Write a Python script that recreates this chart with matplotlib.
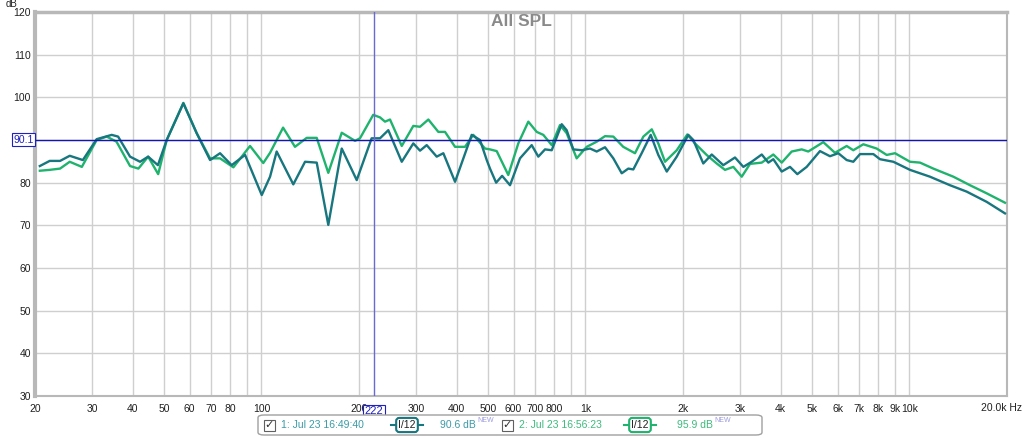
import matplotlib
matplotlib.use('Agg')
import matplotlib.pyplot as plt
from matplotlib.patches import FancyBboxPatch, Rectangle
from matplotlib.lines import Line2D

plt.rcParams['font.family'] = ['Liberation Sans', 'DejaVu Sans']

# measurement 1 (dark teal)
freq1 = [20.7, 22.2, 23.9, 25.6, 28.1, 31.0, 34.5, 36.1, 39.3, 42.2, 44.7, 47.9, 51.0, 57.4,
         63.1, 69.4, 74.5, 80.9, 89.0, 100.2, 106.3, 111.4, 125.4, 136.3, 148.1, 160.8, 176.9,
         196.8, 218.8, 232.2, 246.3, 271.0, 294.2, 308.6, 323.6, 347.4, 364.2, 395.8, 445.5,
         472.6, 495.8, 507.4, 530.0, 553.0, 585.0, 627.9, 682.4, 715.3, 750.2, 786.8, 844.6,
         875.0, 917.0, 973.6, 1033, 1083, 1149, 1219, 1294, 1356, 1405, 1491, 1590, 1678, 1782,
         1913, 2077, 2152, 2310, 2453, 2663, 2894, 3071, 3258, 3500, 3668, 3800, 4034, 4278,
         4507, 4817, 5294, 5684, 6031, 6401, 6709, 7038, 7735, 8110, 8917, 10038, 11568, 13338,
         15018, 17313, 19716]
spl1 = [83.9, 85.1, 85.1, 86.3, 85.3, 90.2, 91.2, 90.8, 86.1, 84.9, 86.1, 84.1, 90.0, 98.6,
        91.6, 85.3, 86.9, 84.1, 86.5, 77.1, 81.4, 87.3, 79.6, 84.9, 84.7, 70.1, 88.0,
        80.6, 90.4, 90.4, 92.3, 84.9, 89.2, 87.5, 88.8, 86.1, 86.9, 80.2, 91.2,
        90.0, 85.3, 83.3, 80.0, 81.6, 79.4, 85.7, 88.8, 86.1, 87.8, 87.6, 93.7,
        92.3, 87.8, 87.6, 88.0, 87.3, 88.3, 85.7, 82.2, 83.3, 83.1, 86.9, 91.2, 86.5, 82.6,
        86.1, 91.2, 90.0, 84.5, 86.6, 84.1, 85.9, 83.7, 84.9, 86.6, 84.7, 85.5, 82.6, 83.7,
        82.0, 83.7, 87.4, 86.2, 86.9, 85.3, 84.9, 86.7, 86.7, 85.5, 84.9, 83.0, 81.4, 79.4,
        77.9, 75.5, 72.8]

# measurement 2 (green)
freq2 = [20.7, 22.2, 23.9, 25.6, 27.9, 31.0, 33.3, 35.7, 39.3, 41.7, 44.7, 48.0, 51.0, 57.4,
         63.1, 69.4, 74.5, 81.9, 92.2, 101.3, 106.3, 116.6, 126.9, 137.9, 148.1, 160.8, 176.9,
         194.4, 201.4, 221.3, 232.2, 240.6, 249.3, 271.0, 294.2, 308.6, 327.4, 351.5, 368.6,
         395.8, 424.8, 450.6, 489.7, 507.4, 532.2, 577.8, 620.4, 666.2, 707.2, 741.2, 786.8,
         834.4, 875.0, 939.4, 1009, 1083, 1149, 1219, 1308, 1422, 1509, 1602, 1678, 1760, 1913,
         2062, 2178, 2366, 2541, 2696, 2860, 3036, 3220, 3500, 3800, 4034, 4330, 4650, 4872,
         5420, 5890, 6401, 6709, 7204, 7920, 8506, 9024, 10038, 10778, 11846, 13660, 15376,
         17313, 19716]
spl2 = [82.8, 83.0, 83.3, 84.9, 83.7, 90.0, 90.8, 89.6, 83.9, 83.3, 86.1, 82.0, 90.0, 98.7,
        91.6, 85.7, 85.7, 83.6, 88.6, 84.6, 87.0, 92.9, 88.4, 90.5, 90.5, 82.3, 91.7,
        89.8, 90.4, 95.9, 95.3, 94.3, 94.8, 88.6, 93.3, 93.1, 94.8, 91.9, 91.9,
        88.4, 88.4, 91.2, 88.0, 87.8, 87.4, 81.8, 89.2, 94.3, 91.9, 91.2, 88.8,
        93.5, 91.6, 85.7, 88.4, 89.6, 90.9, 90.8, 88.4, 86.9, 90.8, 92.5, 89.2, 84.9, 87.6,
        91.3, 89.2, 86.5, 84.5, 83.0, 83.7, 81.4, 84.4, 84.7, 86.6, 84.7, 87.3, 87.8, 87.3,
        89.5, 87.0, 88.6, 87.6, 89.0, 88.0, 86.5, 86.9, 84.9, 84.7, 83.3, 81.4, 79.4,
        77.5, 75.3]

grid_freqs = [20, 30, 40, 50, 60, 70, 80, 90, 100, 200, 300, 400, 500, 600, 700, 800, 900,
              1000, 2000, 3000, 4000, 5000, 6000, 7000, 8000, 9000, 10000, 20000]
grid_labels = ['20', '30', '40', '50', '60', '70', '80', '', '100', '200', '300', '400', '500',
               '600', '700', '800', '', '1k', '2k', '3k', '4k', '5k', '6k', '7k', '8k', '9k',
               '10k', '']
db_ticks = [30, 40, 50, 60, 70, 80, 90, 100, 110, 120]
db_labels = ['30', '40', '50', '60', '70', '80', '', '100', '110', '120']

cursor_freq = 222
cursor_db = 90.1

c1 = '#17767e'
c2 = '#1fb36e'

W, H = 1024, 438
fig = plt.figure(figsize=(W / 100, H / 100), dpi=100)
fig.patch.set_facecolor('white')
ax = fig.add_axes([35 / W, 1 - 396 / H, 972 / W, 384 / H])

ax.set_xscale('log')
ax.set_xlim(20, 20000)
ax.set_ylim(30, 120)
ax.set_xticks(grid_freqs)
ax.set_xticklabels(grid_labels)
ax.xaxis.set_minor_locator(matplotlib.ticker.NullLocator())
ax.set_yticks(db_ticks)
ax.set_yticklabels(db_labels)
ax.tick_params(length=0, labelsize=7.5, colors='#202020')
ax.tick_params(axis='x', pad=6)
ax.tick_params(axis='y', pad=3)
ax.grid(True, color='#cfcfcf', lw=1)
ax.set_axisbelow(True)
for s in ax.spines.values():
    s.set_color('#b8b8b8')
    s.set_linewidth(1.5)
ax.spines['left'].set_linewidth(3)
ax.spines['top'].set_linewidth(2.5)

ax.plot(freq2, spl2, color=c2, lw=1.7, zorder=3, solid_joinstyle='round')
ax.plot(freq1, spl1, color=c1, lw=1.7, zorder=4, solid_joinstyle='round')

ax.axhline(cursor_db, color='#1414b4', lw=1, zorder=5)
ax.axvline(cursor_freq, color='#6a6ad4', lw=1, zorder=5)

ax.text(0.5, 0.995, 'All SPL', transform=ax.transAxes, ha='center', va='top',
        fontsize=12.5, fontweight='bold', color='#8a8a8a')

# cursor read-outs
ax.annotate(f'{cursor_db}', xy=(0, cursor_db), xycoords=('axes fraction', 'data'),
            xytext=(-1, 0), textcoords='offset points', ha='right', va='center',
            fontsize=7.5, color='#2020c0', zorder=6,
            bbox=dict(boxstyle='square,pad=0.15', fc='white', ec='#2020c0', lw=0.8))
ax.annotate(f'{cursor_freq}', xy=(cursor_freq, 0), xycoords=('data', 'axes fraction'),
            xytext=(0, -11), textcoords='offset points', ha='center', va='center',
            fontsize=8, color='#2020c0', zorder=6, annotation_clip=False,
            bbox=dict(boxstyle='square,pad=0.15', fc='white', ec='#2020c0', lw=0.8))

fig.text(12 / W, 1 - 4 / H, 'dB', ha='center', va='center', fontsize=7, color='#202020')
fig.text(1022 / W, 1 - 408 / H, '20.0k Hz', ha='right', va='center', fontsize=7.5,
         color='#202020')

# legend strip
fig.patches.append(FancyBboxPatch((258 / W, 1 - 435 / H), 504 / W, 20 / H,
                                  boxstyle='round,pad=0,rounding_size=0.006',
                                  transform=fig.transFigure, fc='white', ec='#a0a0a0', lw=1))
ly = 1 - 425 / H
entries = [(264, '1: Jul 23 16:49:40', 395, '90.6 dB', 440, c1, '#3a9aa6'),
           (502, '2: Jul 23 16:56:23', 628, '95.9 dB', 677, c2, '#3cba7c')]
for cx, name, ix, lvl, lx, lc, tc in entries:
    fig.patches.append(Rectangle(((cx) / W, ly - 5.5 / H), 11 / W, 11 / H,
                                 transform=fig.transFigure, fc='white', ec='#606060', lw=0.8))
    fig.text((cx + 5.5) / W, ly, '\u2713', ha='center', va='center', fontsize=8,
             color='#303030', family=['DejaVu Sans'])
    fig.text((cx + 17) / W, ly, name, ha='left', va='center', fontsize=7.5, color=tc)
    fig.lines.append(Line2D([(ix - 4) / W, (ix + 28) / W], [ly, ly],
                            transform=fig.transFigure, color=lc, lw=1.5))
    fig.text((ix + 12) / W, ly, 'I/12', ha='center', va='center', fontsize=7.5,
             color='#202020',
             bbox=dict(boxstyle='round,pad=0.2,rounding_size=0.3', fc='white', ec=lc, lw=1.5))
    fig.text(lx / W, ly, lvl, ha='left', va='center', fontsize=7.5, color=tc)
    fig.text((lx + 37) / W, ly + 4 / H, 'NEW', ha='left', va='center', fontsize=5,
             color='#9a9ae0')

fig.savefig('out.png', dpi=100)
